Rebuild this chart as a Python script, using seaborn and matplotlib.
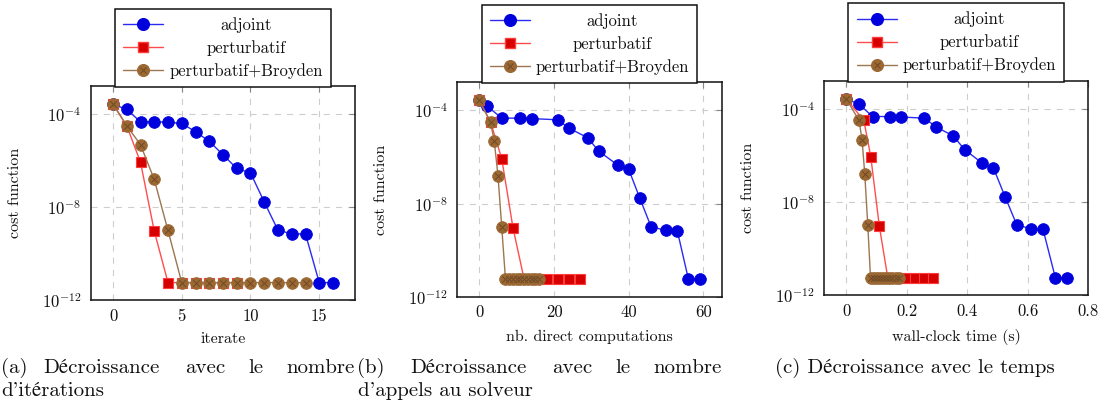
import numpy as np
import pandas as pd
import seaborn as sns
import matplotlib
matplotlib.use("Agg")
import matplotlib.pyplot as plt
from matplotlib.lines import Line2D
from matplotlib.legend_handler import HandlerTuple
from matplotlib.ticker import FixedLocator, NullLocator, LogFormatterSciNotation, FuncFormatter

# ---------------- data ----------------
series_names = ["adjoint", "perturbatif", "perturbatif+Broyden"]

adjoint_cost = [2.69e-4, 1.58e-4, 4.68e-5, 4.68e-5, 4.47e-5, 3.98e-5, 1.74e-5, 6.76e-6,
                1.78e-6, 4.57e-7, 2.95e-7, 1.66e-8, 1.0e-9, 7.08e-10, 6.9e-10, 5.6e-12, 5.6e-12]
pert_cost = [2.69e-4, 3.16e-5, 8.5e-7, 9.3e-10, 5.6e-12, 5.6e-12, 5.6e-12, 5.6e-12, 5.6e-12, 5.6e-12]
broy_cost = [2.69e-4, 3.16e-5, 4.8e-6, 1.55e-7, 9.8e-10, 5.6e-12, 5.6e-12, 5.6e-12, 5.6e-12,
             5.6e-12, 5.6e-12, 5.6e-12, 5.6e-12, 5.6e-12, 5.6e-12]

adjoint_iter = [0, 1, 2, 3, 4, 5, 6, 7, 8, 9, 10, 11, 12, 13, 14, 15, 16]
pert_iter = [0, 1, 2, 3, 4, 5, 6, 7, 8, 9]
broy_iter = [0, 1, 2, 3, 4, 5, 6, 7, 8, 9, 10, 11, 12, 13, 14]

adjoint_calls = [0, 2, 6, 11, 14, 21, 24, 29, 32, 37, 40, 43, 46, 50, 53, 56, 59]
pert_calls = [0, 3, 6, 9, 12, 15, 18, 21, 24, 27]
broy_calls = [0, 3, 4, 5, 6, 7, 8, 9, 10, 11, 12, 13, 14, 15, 16]

adjoint_time = [0, 0.042, 0.087, 0.143, 0.180, 0.258, 0.295, 0.354, 0.391, 0.450, 0.486,
                0.525, 0.564, 0.612, 0.650, 0.691, 0.728]
pert_time = [0, 0.058, 0.081, 0.109, 0.137, 0.167, 0.198, 0.228, 0.257, 0.285]
broy_time = [0, 0.042, 0.052, 0.061, 0.071, 0.080, 0.090, 0.101, 0.111, 0.121, 0.132,
             0.142, 0.152, 0.163, 0.173]

x_labels = ["iterate", "nb. direct computations", "wall-clock time (s)"]
y_label = "cost function"
x_ticks = [[0, 5, 10, 15], [0, 20, 40, 60], [0, 0.2, 0.4, 0.6, 0.8]]
y_ticks = [1e-12, 1e-8, 1e-4]

# ---------------- style ----------------
sns.set_theme(style="white")
plt.rcParams["font.family"] = ["cmr10", "STIXGeneral", "DejaVu Serif"]
plt.rcParams["mathtext.fontset"] = "cm"
plt.rcParams["axes.unicode_minus"] = False
plt.rcParams["axes.formatter.use_mathtext"] = True

BLUE_LINE, BLUE_FACE = "#2a2af5", "#0000dd"
RED_LINE, RED_FACE, RED_EDGE = "#ff4d4d", "#d60000", "#ff3c3c"
BROWN_LINE, BROWN_FACE, BROWN_X = "#9c7650", "#9b6833", "#6e4a26"
INK = "#111111"

W, H = 1105, 416
fig = plt.figure(figsize=(W / 100, H / 100), dpi=100)

# axes boxes in pixels: left, top, right, bottom
boxes = [(91, 86, 355, 300), (457.3, 82.3, 721.7, 296.7), (824.3, 80.7, 1088.3, 295)]
xlims = [(-1.6, 17.6), (-5.9, 64.9), (-0.0728, 0.8)]
xlabel_y = [-0.15, -0.155, -0.158]

datasets = [
    (adjoint_iter, pert_iter, broy_iter),
    (adjoint_calls, pert_calls, broy_calls),
    (adjoint_time, pert_time, broy_time),
]

tick_font = 12
legends = []
for k, (l, t, r, b) in enumerate(boxes):
    ax = fig.add_axes([l / W, 1 - b / H, (r - l) / W, (b - t) / H])
    xa, xp, xb = datasets[k]
    sns.lineplot(x=xa, y=adjoint_cost, ax=ax, color=BLUE_LINE, linewidth=1.0, marker="o",
                 markersize=8.4, markerfacecolor=BLUE_FACE, markeredgecolor=BLUE_FACE,
                 markeredgewidth=0.6, estimator=None, sort=False, zorder=3)
    sns.lineplot(x=xp, y=pert_cost, ax=ax, color=RED_LINE, linewidth=1.0, marker="s",
                 markersize=7.2, markerfacecolor=RED_FACE, markeredgecolor=RED_EDGE,
                 markeredgewidth=0.8, estimator=None, sort=False, zorder=4)
    sns.lineplot(x=xb, y=broy_cost, ax=ax, color=BROWN_LINE, linewidth=1.0, marker="o",
                 markersize=8.4, markerfacecolor=BROWN_FACE, markeredgecolor=BROWN_FACE,
                 markeredgewidth=0.6, estimator=None, sort=False, zorder=5)
    sns.scatterplot(x=xb, y=broy_cost, ax=ax, marker="x", s=22, color=BROWN_X,
                    linewidth=0.7, zorder=6)

    ax.set_yscale("log")
    ax.set_ylim(1e-12, 10 ** -2.79)
    ax.set_xlim(*xlims[k])
    ax.yaxis.set_major_locator(FixedLocator(y_ticks))
    ax.yaxis.set_major_formatter(LogFormatterSciNotation())
    ax.yaxis.set_minor_locator(NullLocator())
    ax.xaxis.set_major_locator(FixedLocator(x_ticks[k]))
    ax.xaxis.set_major_formatter(FuncFormatter(lambda v, p: f"{v:g}"))
    ax.xaxis.set_minor_locator(NullLocator())

    ax.grid(True, which="major", color="#cdcdcd", linestyle=(0, (5.5, 5.5)), linewidth=0.8)
    ax.set_axisbelow(True)
    for s in ax.spines.values():
        s.set_color(INK)
        s.set_linewidth(1.1)
    ax.tick_params(axis="both", which="major", direction="in", top=True, right=True,
                   length=4, width=0.8, color="#888888", labelsize=tick_font,
                   labelcolor=INK)
    ax.tick_params(axis="x", pad=6)
    ax.tick_params(axis="y", pad=7)

    ax.set_xlabel(x_labels[k], fontsize=11.5, color=INK)
    ax.set_ylabel(y_label, fontsize=11.5, color=INK)
    ax.xaxis.set_label_coords(0.5, xlabel_y[k])
    ax.yaxis.set_label_coords((22 - 91) / 264, 0.5)

    h_adj = Line2D([], [], color=BLUE_LINE, lw=1.0, marker="o", ms=8.4,
                   mfc=BLUE_FACE, mec=BLUE_FACE)
    h_per = Line2D([], [], color=RED_LINE, lw=1.0, marker="s", ms=7.2,
                   mfc=RED_FACE, mec=RED_EDGE)
    h_bro = Line2D([], [], color=BROWN_LINE, lw=1.0, marker="o", ms=8.4,
                   mfc=BROWN_FACE, mec=BROWN_FACE)
    h_brx = Line2D([], [], color=BROWN_X, lw=0, marker="x", ms=4.6, mew=0.7)
    leg = ax.legend([h_adj, h_per, (h_bro, h_brx)], series_names,
                    handler_map={tuple: HandlerTuple(ndivide=1, pad=0)},
                    loc="lower center", bbox_to_anchor=(0.5, 0.995), fontsize=12,
                    frameon=True, fancybox=False, shadow=False, framealpha=1,
                    edgecolor=INK, handlelength=2.4, handletextpad=0.34,
                    borderpad=0.5, labelspacing=0.43, borderaxespad=0.0)
    leg.get_frame().set_linewidth(1.1)
    for txt in leg.get_texts():
        txt.set_color(INK)
    legends.append(leg)

# centre legend labels within their column (as in the original)
fig.canvas.draw()
renderer = fig.canvas.get_renderer()
for leg in legends:
    texts = leg.get_texts()
    widths = [t.get_window_extent(renderer).width for t in texts]
    mw = max(widths)
    for t, w in zip(texts, widths):
        t.set_x((mw - w) / 2)

# ---------------- captions ----------------
cap_fs = 15
CAP_FAMILY = ["cmr10", "STIXGeneral", "DejaVu Serif"]
def put(x, ybase, s, ha="left"):
    fig.text(x / W, 1 - ybase / H, s, ha=ha, va="baseline", fontsize=cap_fs, color=INK,
             family=CAP_FAMILY)

DEC = "Décroissance"
y1, y2 = 373, 396
put(1, y1, "(a)")
put(43, y1, DEC)
put(185, y1, "avec")
put(248, y1, "le")
put(355, y1, "nombre", ha="right")
put(1, y2, "d'itérations")

put(357, y1, "(b)")
put(410.7, y1, DEC)
put(551.7, y1, "avec")
put(615.7, y1, "le")
put(722, y1, "nombre", ha="right")
put(358, y2, "d'appels au solveur")

put(775, y1, "(c) " + DEC + " avec le temps")

fig.savefig("out.png", dpi=100)
